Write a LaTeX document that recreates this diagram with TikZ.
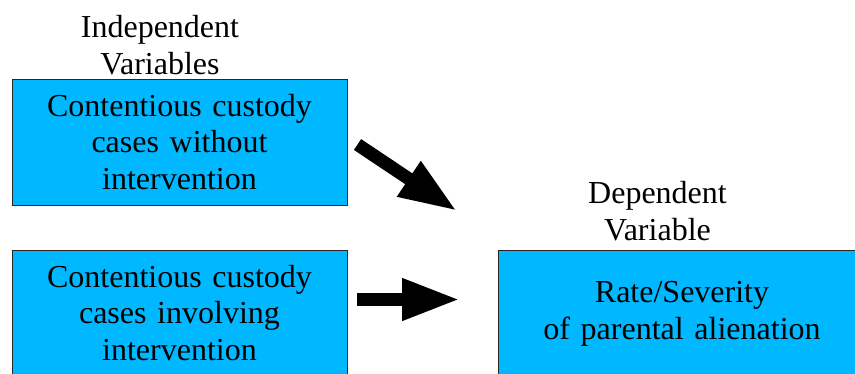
\documentclass[tikz,border=0pt]{standalone}
\usepackage{fontspec}
\setmainfont{Liberation Serif}
\usetikzlibrary{positioning,arrows.meta}
\definecolor{boxblue}{RGB}{0,184,255}

\begin{document}
\begin{tikzpicture}[x=1pt, y=-1pt, node distance = 2cm]
{\fontsize{32}{36.5}\selectfont
	\tikzstyle{varbox} = [rectangle, fill=boxblue, draw=black!85, line width=0.8pt, inner sep=0pt, text width=320pt, align=center]
	\tikzstyle{heading} = [align=center, inner sep=0pt]
	\tikzstyle{arrow} = [line width=13pt, -{Triangle[length=58pt,width=39pt]}]

	\useasboundingbox (0,0) rectangle (855,373);
	\clip (0,0) rectangle (855,373);

	\node (ind1) [varbox, minimum width=335pt, minimum height=126pt] at (179.5,142) {Contentious custody\\cases without\\intervention};
	\node (ind2) [varbox, minimum width=335pt, minimum height=126pt] at (179.5,313) {Contentious custody\\cases involving\\intervention};
	\node (dep) [varbox, minimum width=368pt, minimum height=128pt] at (682,314) {Rate/Severity\\of parental alienation};
	\node (lab1) [heading] at (160,45) {Independent\\Variables};
	\node (lab2) [heading] at (657.5,211) {Dependent\\Variable};

	\coordinate (a1s) at (357.5,144.5);
	\coordinate (a1e) at (457,211);
	\coordinate (a2s) at (357,299.5);
	\coordinate (a2e) at (460,299.5);
	\draw [arrow](a1s) -- (a1e);
	\draw [arrow](a2s) -- (a2e);
	}
\end{tikzpicture}
\end{document}
